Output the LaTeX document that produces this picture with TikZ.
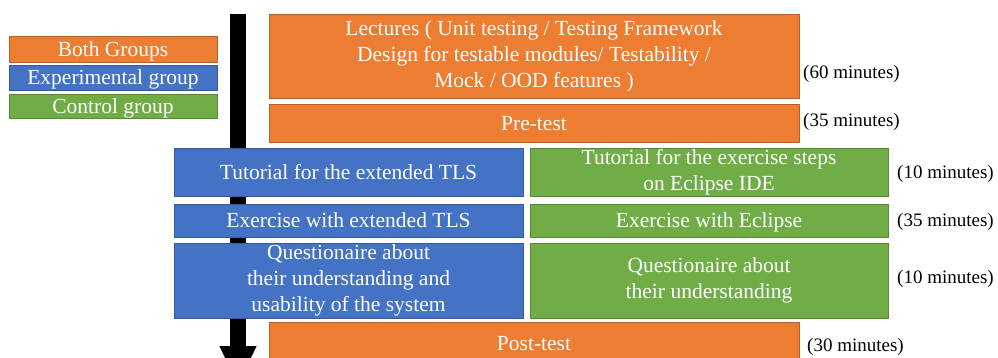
\documentclass[tikz,border=0pt]{standalone}
\usepackage{fontspec}
\setmainfont{Liberation Serif}
\usetikzlibrary{arrows.meta}
\definecolor{boxorange}{HTML}{ED7D31}
\definecolor{boxblue}{HTML}{4472C4}
\definecolor{boxgreen}{HTML}{70AD47}
% line strut with the font's full ascent and descent
\newcommand\linestrut{\rule[-0.216em]{0pt}{1.107em}}
% taller first-line strut for stacked text
\newcommand\firstlinestrut{\rule{0pt}{1.15em}}
\begin{document}
\begin{tikzpicture}[x=1pt,y=-1pt,
  box/.style={rectangle, inner sep=0pt, text=white, align=center,
    font=\fontsize{21.5}{26}\selectfont, line width=0.8pt,
    execute at begin node=\linestrut, execute at end node=\linestrut},
  stacked/.style={execute at begin node=\firstlinestrut},
  both/.style={box, fill=boxorange, draw=boxorange!78!black},
  expbox/.style={box, fill=boxblue, draw=boxblue!78!black},
  ctlbox/.style={box, fill=boxgreen, draw=boxgreen!78!black},
  timenote/.style={anchor=west, inner sep=0pt, text=black,
    font=\fontsize{19}{22}\selectfont,
    execute at begin node=\linestrut},
  timeline/.style={line width=16pt, black,
    -{Triangle[width=34pt,length=40pt]}}]
\useasboundingbox (0,0) rectangle (998,358);
\clip (0,0) rectangle (998,358);

% legend
\node[both, minimum width=208pt, minimum height=26pt] (lgboth) at (113,49) {Both Groups};
\node[expbox, minimum width=208pt, minimum height=25pt] (lgexp) at (113,77.5) {Experimental group};
\node[ctlbox, minimum width=208pt, minimum height=24pt] (lgctl) at (113,106) {Control group};

% time axis
\coordinate (tstart) at (238,14);
\coordinate (tend) at (238,386);
\draw[timeline] (tstart) -- (tend);

% sessions for both groups
\node[both, stacked, minimum width=530pt, minimum height=84pt] (lect) at (534,56)
  {Lectures ( Unit testing / Testing Framework\\Design for testable modules/ Testability /\\Mock / OOD features )};
\node[both, minimum width=530pt, minimum height=38pt] (pre) at (534,123) {Pre-test};

% experimental group
\node[expbox, minimum width=349pt, minimum height=48pt] (etut) at (348.5,172) {Tutorial for the extended TLS};
\node[expbox, minimum width=349pt, minimum height=33pt] (eex) at (348.5,220.5) {Exercise with extended TLS};
\node[expbox, stacked, minimum width=349pt, minimum height=75pt] (eq) at (348.5,280.5)
  {Questionaire about\\their understanding and\\usability of the system};

% control group
\node[ctlbox, stacked, minimum width=358pt, minimum height=48pt] (ctut) at (709,172)
  {Tutorial for the exercise steps\\on Eclipse IDE};
\node[ctlbox, minimum width=358pt, minimum height=33pt] (cex) at (709,220.5) {Exercise with Eclipse};
\node[ctlbox, stacked, minimum width=358pt, minimum height=75pt] (cq) at (709,280.5)
  {Questionaire about\\their understanding};

% final test
\node[both, minimum width=530pt, minimum height=42pt] (post) at (534,343) {Post-test};

% durations
\node[timenote] (t1) at (803,72) {(60 minutes)};
\node[timenote] (t2) at (803,120) {(35 minutes)};
\node[timenote] (t3) at (897,172) {(10 minutes)};
\node[timenote] (t4) at (897,220) {(35 minutes)};
\node[timenote] (t5) at (897,277) {(10 minutes)};
\node[timenote] (t6) at (807,345) {(30 minutes)};
\end{tikzpicture}
\end{document}
